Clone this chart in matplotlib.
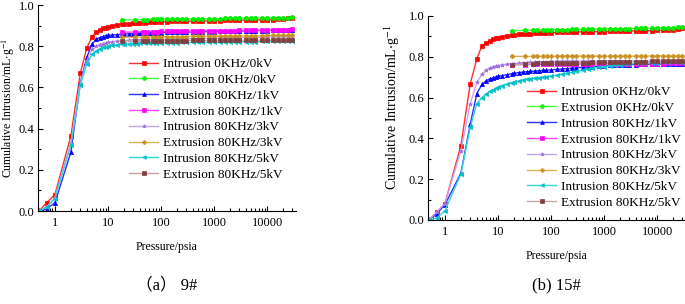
import matplotlib
matplotlib.use("Agg")
import matplotlib.pyplot as plt
from matplotlib.ticker import MultipleLocator, LogLocator, NullFormatter, FixedLocator, FixedFormatter

plt.rcParams['font.family'] = ['Liberation Serif', 'Noto Sans CJK SC', 'DejaVu Sans']
plt.rcParams['mathtext.fontset'] = 'stix'

# ---------------- data ----------------
P_in = [0.5, 0.7, 1, 2, 3, 4, 5, 6, 7, 8, 9, 10, 12, 15, 18, 20, 25, 30, 35, 40,
        50, 60, 70, 80, 100, 130, 160, 200, 250, 300, 400, 500, 600, 800, 1000, 1300, 1600, 2000, 2500, 3000,
        4000, 5000, 6000, 8000, 10000, 13000, 16000, 20000, 25000, 30000]
P_ex = [18, 32, 45, 55, 70, 85, 100, 130, 160, 200, 250, 300, 400, 500, 600, 800, 1000,
        1300, 1600, 2000, 2500, 3000, 4000, 5000, 6000, 8000, 10000, 13000, 16000, 20000, 25000, 30000]

labels = ["Intrusion 0KHz/0kV", "Extrusion 0KHz/0kV", "Intrusion 80KHz/1kV", "Extrusion 80KHz/1kV",
          "Intrusion 80KHz/3kV", "Extrusion 80KHz/3kV", "Intrusion 80KHz/5kV", "Extrusion 80KHz/5kV"]

# panel (a) 9#
a_in_0 = [0.0, 0.04, 0.08, 0.365, 0.668, 0.792, 0.846, 0.870, 0.880, 0.886, 0.890, 0.893, 0.898, 0.903, 0.906, 0.908,
          0.910, 0.912, 0.913, 0.914, 0.915, 0.916, 0.917, 0.918, 0.919, 0.919, 0.920, 0.920, 0.921, 0.921, 0.922,
          0.922, 0.923, 0.923, 0.924, 0.924, 0.925, 0.925, 0.926, 0.926, 0.927, 0.927, 0.927, 0.928, 0.928, 0.929,
          0.930, 0.932, 0.935, 0.938]
a_ex_0 = [0.927, 0.928, 0.929, 0.929, 0.930, 0.930, 0.931, 0.931, 0.931, 0.932, 0.932, 0.932, 0.933, 0.933, 0.933,
          0.934, 0.934, 0.934, 0.935, 0.935, 0.935, 0.935, 0.936, 0.936, 0.936, 0.937, 0.937, 0.937, 0.938, 0.938,
          0.939, 0.940]
a_in_1 = [0.0, 0.01, 0.04, 0.285, 0.62, 0.747, 0.81, 0.833, 0.842, 0.847, 0.850, 0.852, 0.854, 0.856, 0.858, 0.859,
          0.860, 0.861, 0.862, 0.863, 0.864, 0.865, 0.865, 0.866, 0.866, 0.867, 0.867, 0.868, 0.868, 0.869, 0.869,
          0.870, 0.870, 0.871, 0.871, 0.872, 0.872, 0.873, 0.873, 0.874, 0.874, 0.875, 0.875, 0.876, 0.876, 0.877,
          0.877, 0.878, 0.879, 0.880]
a_ex_1 = [0.868, 0.869, 0.870, 0.870, 0.871, 0.871, 0.872, 0.872, 0.872, 0.873, 0.873, 0.873, 0.874, 0.874, 0.874,
          0.875, 0.875, 0.875, 0.876, 0.876, 0.876, 0.877, 0.877, 0.877, 0.878, 0.878, 0.878, 0.879, 0.879, 0.880,
          0.881, 0.882]
a_in_3 = [0.0, 0.02, 0.065, 0.33, 0.615, 0.73, 0.785, 0.800, 0.808, 0.813, 0.816, 0.818, 0.821, 0.824, 0.826, 0.827,
          0.828, 0.829, 0.830, 0.831, 0.832, 0.832, 0.833, 0.833, 0.834, 0.834, 0.835, 0.835, 0.836, 0.836, 0.837,
          0.837, 0.838, 0.838, 0.839, 0.839, 0.840, 0.840, 0.841, 0.841, 0.842, 0.842, 0.843, 0.843, 0.844, 0.844,
          0.845, 0.845, 0.846, 0.847]
a_ex_3 = [0.843, 0.844, 0.844, 0.845, 0.845, 0.845, 0.846, 0.846, 0.846, 0.847, 0.847, 0.847, 0.848, 0.848, 0.848,
          0.848, 0.849, 0.849, 0.849, 0.850, 0.850, 0.850, 0.850, 0.851, 0.851, 0.851, 0.852, 0.852, 0.852, 0.853,
          0.853, 0.854]
a_in_5 = [0.0, 0.02, 0.06, 0.32, 0.61, 0.715, 0.76, 0.777, 0.787, 0.794, 0.798, 0.801, 0.804, 0.807, 0.809, 0.810,
          0.811, 0.812, 0.813, 0.814, 0.814, 0.815, 0.815, 0.816, 0.816, 0.817, 0.817, 0.817, 0.818, 0.818, 0.818,
          0.819, 0.819, 0.819, 0.820, 0.820, 0.820, 0.821, 0.821, 0.821, 0.822, 0.822, 0.822, 0.823, 0.823, 0.823,
          0.824, 0.824, 0.825, 0.826]
a_ex_5 = [0.826, 0.826, 0.826, 0.826, 0.826, 0.827, 0.827, 0.827, 0.827, 0.827, 0.827, 0.827, 0.828, 0.828, 0.828,
          0.828, 0.828, 0.828, 0.828, 0.828, 0.828, 0.829, 0.829, 0.829, 0.829, 0.829, 0.829, 0.829, 0.829, 0.829,
          0.830, 0.830]

# panel (b) 15#
b_in_0 = [0.0, 0.04, 0.08, 0.365, 0.668, 0.79, 0.855, 0.868, 0.878, 0.886, 0.890, 0.894, 0.898, 0.903, 0.906, 0.908,
          0.910, 0.912, 0.913, 0.914, 0.915, 0.916, 0.917, 0.918, 0.919, 0.920, 0.920, 0.921, 0.921, 0.922, 0.922,
          0.923, 0.923, 0.924, 0.924, 0.925, 0.925, 0.926, 0.926, 0.926, 0.927, 0.927, 0.928, 0.928, 0.929, 0.930,
          0.931, 0.933, 0.937, 0.940]
b_ex_0 = [0.928, 0.929, 0.930, 0.930, 0.931, 0.931, 0.932, 0.932, 0.933, 0.933, 0.934, 0.934, 0.935, 0.935, 0.935,
          0.936, 0.936, 0.937, 0.937, 0.938, 0.938, 0.938, 0.939, 0.939, 0.940, 0.940, 0.941, 0.941, 0.942, 0.943,
          0.944, 0.945]
b_in_1 = [0.0, 0.03, 0.075, 0.23, 0.47, 0.62, 0.665, 0.683, 0.692, 0.697, 0.701, 0.704, 0.708, 0.713, 0.717, 0.719,
          0.723, 0.725, 0.727, 0.728, 0.730, 0.732, 0.733, 0.734, 0.736, 0.738, 0.740, 0.742, 0.744, 0.746, 0.748,
          0.750, 0.752, 0.754, 0.756, 0.758, 0.759, 0.760, 0.761, 0.762, 0.762, 0.763, 0.763, 0.764, 0.764, 0.765,
          0.765, 0.766, 0.766, 0.767]
b_ex_1 = [0.762, 0.762, 0.763, 0.763, 0.763, 0.763, 0.764, 0.764, 0.764, 0.764, 0.765, 0.765, 0.765, 0.765, 0.765,
          0.765, 0.766, 0.766, 0.766, 0.766, 0.766, 0.766, 0.767, 0.767, 0.767, 0.767, 0.767, 0.767, 0.768, 0.768,
          0.768, 0.768]
b_in_3 = [0.0, 0.04, 0.08, 0.34, 0.57, 0.675, 0.715, 0.735, 0.745, 0.750, 0.754, 0.757, 0.760, 0.763, 0.765, 0.767,
          0.769, 0.771, 0.772, 0.773, 0.774, 0.775, 0.776, 0.776, 0.777, 0.777, 0.777, 0.778, 0.778, 0.778, 0.778,
          0.778, 0.778, 0.778, 0.779, 0.779, 0.779, 0.779, 0.779, 0.779, 0.779, 0.780, 0.780, 0.780, 0.780, 0.780,
          0.780, 0.780, 0.780, 0.780]
b_ex_3 = [0.802, 0.802, 0.802, 0.802, 0.802, 0.802, 0.802, 0.802, 0.803, 0.803, 0.803, 0.803, 0.803, 0.803, 0.803,
          0.803, 0.803, 0.803, 0.803, 0.803, 0.803, 0.803, 0.804, 0.804, 0.804, 0.804, 0.804, 0.804, 0.804, 0.804,
          0.804, 0.804]
b_in_5 = [0.0, 0.01, 0.045, 0.225, 0.455, 0.57, 0.60, 0.618, 0.630, 0.638, 0.645, 0.650, 0.658, 0.667, 0.674, 0.677,
          0.682, 0.686, 0.690, 0.692, 0.695, 0.698, 0.700, 0.702, 0.705, 0.710, 0.714, 0.719, 0.724, 0.728, 0.734,
          0.739, 0.743, 0.748, 0.752, 0.756, 0.759, 0.762, 0.764, 0.766, 0.768, 0.769, 0.770, 0.771, 0.772, 0.773,
          0.774, 0.774, 0.775, 0.775]
b_ex_5 = [0.760, 0.765, 0.767, 0.768, 0.769, 0.769, 0.770, 0.770, 0.771, 0.771, 0.771, 0.772, 0.772, 0.772, 0.773,
          0.773, 0.773, 0.774, 0.774, 0.774, 0.775, 0.775, 0.775, 0.776, 0.776, 0.777, 0.777, 0.778, 0.778, 0.779,
          0.779, 0.780]

panel_a = [a_in_0, a_ex_0, a_in_1, a_ex_1, a_in_3, a_ex_3, a_in_5, a_ex_5]
panel_b = [b_in_0, b_ex_0, b_in_1, b_ex_1, b_in_3, b_ex_3, b_in_5, b_ex_5]

line_colors = ['#FF3030', '#40FF40', '#3030FF', '#FF40FF', '#C0A8F0', '#DDB050', '#30D8D8', '#C8A4A4']
mark_colors = ['#FF0000', '#00EE00', '#0000FF', '#FF00FF', '#A070E0', '#C89020', '#00C0C8', '#804040']
markers = ['s', 'o', '^', 's', '*', 'P', '<', 's']

fig = plt.figure(figsize=(6.85, 3.04), dpi=100)
W, H = 685.0, 304.0

def make_axes(x0, x1, ytop, ybot):
    return fig.add_axes([x0 / W, 1 - ybot / H, (x1 - x0) / W, (ybot - ytop) / H])

axA = make_axes(38, 296, 5, 211)
axB = make_axes(428, 686, 16, 220)

def style(ax, data, leg_xy, ylab_xy, ylab_size):
    for i, ys in enumerate(data):
        xs = P_in if i % 2 == 0 else P_ex
        ax.plot(xs, ys, color=line_colors[i], lw=1.0, marker=markers[i], ms=3.0,
                mfc=mark_colors[i], mec=mark_colors[i], mew=0.5, label=labels[i])
    ax.set_xscale('log')
    ax.set_xlim(0.48, 35000)
    ax.set_ylim(0, 1.0)
    ax.spines['top'].set_visible(False)
    ax.spines['right'].set_visible(False)
    ax.xaxis.set_major_locator(FixedLocator([1, 10, 100, 1000, 10000]))
    ax.xaxis.set_major_formatter(FixedFormatter(['1', '10', '100', '1000', '10000']))
    ax.xaxis.set_minor_locator(LogLocator(base=10, subs=range(2, 10)))
    ax.xaxis.set_minor_formatter(NullFormatter())
    ax.yaxis.set_minor_locator(MultipleLocator(0.1))
    ax.set_yticks([0, 0.2, 0.4, 0.6, 0.8, 1.0])
    ax.set_yticklabels(['0.0', '0.2', '0.4', '0.6', '0.8', '1.0'])
    ax.tick_params(which='both', direction='in', labelsize=9, width=0.8)
    ax.tick_params(which='major', length=3.5)
    ax.tick_params(which='minor', length=2)
    ax.tick_params(axis='x', pad=4)
    ax.tick_params(axis='y', pad=2.5)
    ax.set_ylabel(r'Cumulative Intrusion/mL$\cdot$g$^{-1}$', fontsize=ylab_size)
    ax.yaxis.set_label_coords(*ylab_xy)
    ax.set_xlabel('Pressure/psia', fontsize=8.5)
    ax.xaxis.set_label_coords(0.5, -0.145)
    leg = ax.legend(loc='upper left', bbox_to_anchor=(leg_xy[0] / W, 1 - leg_xy[1] / H),
                    bbox_transform=fig.transFigure, frameon=False, fontsize=9.5,
                    handlelength=2.2, handletextpad=0.35, labelspacing=0.27,
                    borderpad=0, borderaxespad=0, markerscale=0.9)
    return leg

style(axA, panel_a, (129, 58), (-0.082, 0.5), 8.5)
style(axB, panel_b, (527, 86), (-0.10, 0.55), 10)

fig.text(167 / W, 1 - 285 / H, '（a） 9#', ha='center', va='center', fontsize=12)
fig.text(556 / W, 1 - 285 / H, '(b) 15#', ha='center', va='center', fontsize=12)

fig.savefig('out.png', dpi=100)
